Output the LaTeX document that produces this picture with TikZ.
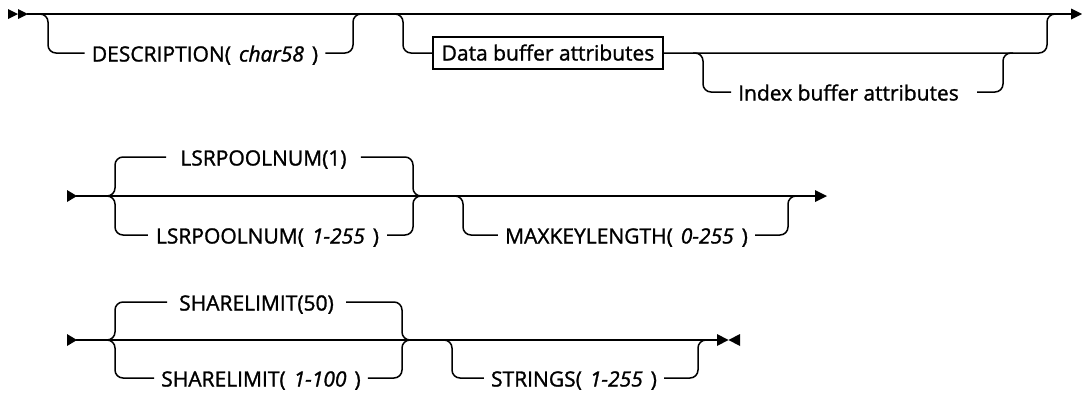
\documentclass[tikz,border=0pt]{standalone}
\usepackage{fontspec}
\setmainfont{Open Sans}[FakeBold=1.3]
\newcommand{\gp}{\hspace{8pt}}
\begin{document}
\begin{tikzpicture}[x=1pt,y=-1pt,
  rr/.style={line width=1.5pt, rounded corners=8pt},
  lbl/.style={inner ysep=0pt, inner xsep=7pt, text height=15pt, text depth=0pt,
    font=\fontsize{21}{25}\selectfont},
  refbox/.style={draw, line width=1.5pt, inner ysep=8.5pt, inner xsep=0pt,
    minimum width=230pt, text height=15pt, text depth=0pt,
    font=\fontsize{21}{25}\selectfont},
  tip/.style={fill=black}]
\useasboundingbox (0,0) rectangle (1082,397);

% ---------------- Row 1 ----------------
\fill[tip] (8,9) -- (18,14) -- (8,19) -- cycle;
\fill[tip] (18,9) -- (28,14) -- (18,19) -- cycle;
\draw[line width=1.5pt] (27,14) -- (1072,14);
\fill[tip] (1071,8.5) -- (1082,14) -- (1071,19.5) -- cycle;

\node[lbl] (desc) at (205,54) {DESCRIPTION(\gp\textit{char58}\gp)};
\draw[rr] (38,14) -- (48,14) -- (48,53) -- (desc.west |- 0,53);
\draw[rr] (desc.east |- 0,53) -- (353,53) -- (353,14) -- (363,14);

\node[refbox] (data) at (548,53) {Data buffer attributes};
\draw[rr] (393,14) -- (403,14) -- (403,53) -- (data.west);
\draw[rr] (data.east) -- (1047,53) -- (1047,14) -- (1057,14);

\node[lbl] (idx) at (848.5,93) {Index buffer attributes};
\draw[rr] (693,53) -- (703,53) -- (703,92) -- (idx.west |- 0,92);
\draw[rr] ([xshift=11pt]idx.east |- 0,92) -- (1003,92) -- (1003,53) -- (1013,53);

% ---------------- Row 2 ----------------
\fill[tip] (67,190) -- (77,196) -- (67,202) -- cycle;
\draw[line width=1.5pt] (76,196) -- (816,196);
\fill[tip] (815,190) -- (827,196) -- (815,202) -- cycle;

\node[lbl, inner xsep=14pt] (lsra) at (263.5,158) {LSRPOOLNUM(1)};
\node[lbl, inner xsep=8pt] (lsrb) at (267.5,236) {LSRPOOLNUM(\gp\textit{1-255}\gp)};
\draw[rr] (105,196) -- (115,196) -- (115,157) -- (lsra.west |- 0,157);
\draw[rr] (105,196) -- (115,196) -- (115,235) -- (lsrb.west |- 0,235);
\draw[rr] (lsra.east |- 0,157) -- (413,157) -- (413,196) -- (423,196);
\draw[rr] (lsrb.east |- 0,235) -- (413,235) -- (413,196) -- (423,196);

\node[lbl] (maxk) at (626.5,236) {MAXKEYLENGTH(\gp\textit{0-255}\gp)};
\draw[rr] (453,196) -- (463,196) -- (463,235) -- (maxk.west |- 0,235);
\draw[rr] (maxk.east |- 0,235) -- (788,235) -- (788,196) -- (798,196);

% ---------------- Row 3 ----------------
\fill[tip] (67,334) -- (77,340) -- (67,346) -- cycle;
\draw[line width=1.5pt] (76,340) -- (718,340);
\fill[tip] (717,334) -- (728.5,340) -- (717,346) -- cycle;
\fill[tip] (740,334) -- (728.5,340) -- (740,346) -- cycle;

\node[lbl, inner xsep=12pt] (sha) at (256.5,303) {SHARELIMIT(50)};
\node[lbl] (shb) at (261,379) {SHARELIMIT(\gp\textit{1-100}\gp)};
\draw[rr] (105,340) -- (115,340) -- (115,302) -- (sha.west |- 0,302);
\draw[rr] (105,340) -- (115,340) -- (115,378) -- (shb.west |- 0,378);
\draw[rr] (sha.east |- 0,302) -- (402,302) -- (402,340) -- (412,340);
\draw[rr] (shb.east |- 0,378) -- (402,378) -- (402,340) -- (412,340);

\node[lbl] (str) at (574,379) {STRINGS(\gp\textit{1-255}\gp)};
\draw[rr] (442,340) -- (452,340) -- (452,378) -- (str.west |- 0,378);
\draw[rr] (str.east |- 0,378) -- (698,378) -- (698,340) -- (708,340);
\end{tikzpicture}
\end{document}
